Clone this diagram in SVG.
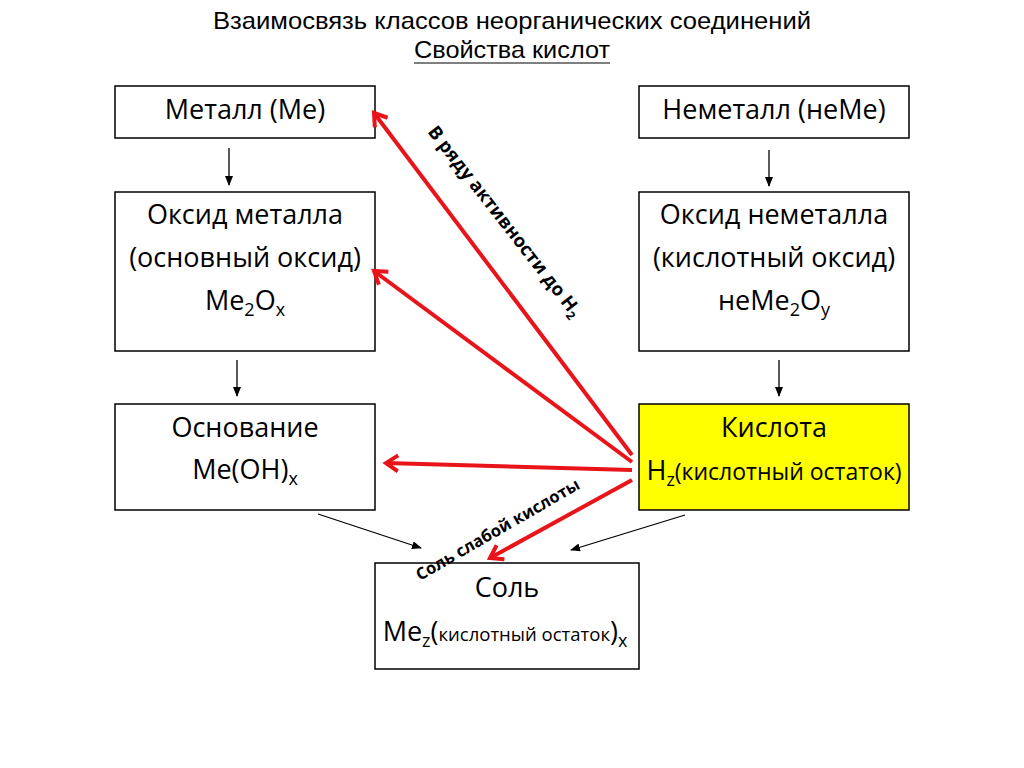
<svg xmlns="http://www.w3.org/2000/svg" width="1024" height="768" viewBox="0 0 1024 768">
<style>
.box{fill:#fff;stroke:#000;stroke-width:1.5}
.t{font-family:"Open Sans","Noto Sans",sans-serif;font-size:27px;fill:#000;text-anchor:middle}
.ti{font-family:"Liberation Sans",Arial,sans-serif;font-size:24px;fill:#000;text-anchor:middle}
.lb{font-family:"Open Sans","Noto Sans",sans-serif;font-weight:bold;fill:#000}
.blk{stroke:#000;stroke-width:1.3;fill:none;marker-end:url(#ah)}
.red{stroke:#e8141a;stroke-width:4;fill:none;marker-end:url(#rh)}
</style>
<defs>
<marker id="ah" markerWidth="10" markerHeight="8" refX="9" refY="4" orient="auto" markerUnits="userSpaceOnUse">
<path d="M0,0 L10,4 L0,8 Z" fill="#000"/>
</marker>
<marker id="rh" markerWidth="20" markerHeight="20" refX="16" refY="10" orient="auto" markerUnits="userSpaceOnUse">
<path d="M4,2 L16,10 L4,18" fill="none" stroke="#e8141a" stroke-width="4"/>
</marker>
</defs>
<text class="ti" x="512" y="29" textLength="598" lengthAdjust="spacingAndGlyphs">Взаимосвязь классов неорганических соединений</text>
<text class="ti" x="512" y="58" textLength="196" lengthAdjust="spacingAndGlyphs">Свойства кислот</text>
<line x1="414" y1="63" x2="610" y2="63" stroke="#000" stroke-width="1.2"/>

<g id="metal"><rect class="box" x="115" y="86" width="260" height="52"/><text class="t" x="245" y="119">Металл (Ме)</text></g>
<g id="oxide-metal"><rect class="box" x="115" y="192" width="260" height="159"/>
<text class="t" x="245" y="224">Оксид металла</text>
<text class="t" x="245" y="267">(основный оксид)</text>
<text class="t" x="245" y="310">Me<tspan font-size="18" dy="6">2</tspan><tspan dy="-6">O</tspan><tspan font-size="18" dy="6">x</tspan></text></g>
<g id="base"><rect class="box" x="115" y="404" width="260" height="106"/>
<text class="t" x="245" y="437">Основание</text>
<text class="t" x="245" y="479">Me(OH)<tspan font-size="18" dy="6">x</tspan></text></g>
<g id="nonmetal"><rect class="box" x="639" y="86" width="270" height="52"/><text class="t" x="774" y="119">Неметалл (неМе)</text></g>
<g id="oxide-nonmetal"><rect class="box" x="639" y="192" width="270" height="159"/>
<text class="t" x="774" y="224">Оксид неметалла</text>
<text class="t" x="774" y="267">(кислотный оксид)</text>
<text class="t" x="774" y="310">неMe<tspan font-size="18" dy="6">2</tspan><tspan dy="-6">O</tspan><tspan font-size="18" dy="6">y</tspan></text></g>
<g id="acid"><rect class="box" x="639" y="404" width="270" height="106" style="fill:#ffff00"/>
<text class="t" x="774" y="437">Кислота</text>
<text class="t" x="774" y="480">H<tspan font-size="18" dy="6">z</tspan><tspan dy="-6" font-size="23">(кислотный остаток)</tspan></text></g>
<g id="salt"><rect class="box" x="375" y="563" width="264" height="106"/>
<text class="t" x="507" y="597">Соль</text>
<text class="t" x="505" y="641">Me<tspan font-size="18" dy="6">z</tspan><tspan dy="-6">(</tspan><tspan font-size="18.5">кислотный остаток</tspan>)<tspan font-size="18" dy="6">x</tspan></text></g>

<g id="connectors">
<line class="blk" x1="229" y1="148" x2="229" y2="185"/>
<line class="blk" x1="769" y1="150" x2="769" y2="186"/>
<line class="blk" x1="237" y1="360" x2="237" y2="396"/>
<line class="blk" x1="779" y1="360" x2="779" y2="396"/>
<line class="blk" x1="318" y1="514" x2="421" y2="548"/>
<line class="blk" x1="685" y1="515" x2="571" y2="550"/>
<line class="red" x1="632" y1="455" x2="374" y2="113"/>
<line class="red" x1="632" y1="462" x2="374" y2="271"/>
<line class="red" x1="632" y1="470" x2="386" y2="463"/>
<line class="red" x1="632" y1="480" x2="490" y2="558"/>
<text class="lb" font-size="18.5" transform="translate(427,132) rotate(52)">В ряду активности до H<tspan font-size="12" dy="4">2</tspan></text>
<text class="lb" font-size="16.5" transform="translate(420,581) rotate(-30)">Соль слабой кислоты</text>
</g>
</svg>
